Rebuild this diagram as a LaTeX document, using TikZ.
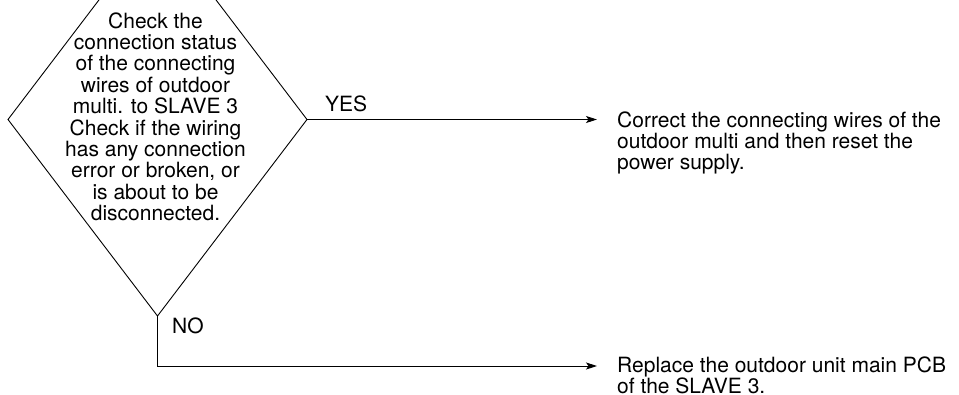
\documentclass[tikz,border=0pt]{standalone}
\usepackage{fontspec}
\setmainfont{TeX Gyre Heros}
\usetikzlibrary{arrows.meta}
\begin{document}
\begin{tikzpicture}[x=1bp,y=-1bp,
  wire/.style={line width=0.9bp,black},
  flow/.style={wire,-{Stealth[length=11bp,width=7bp,inset=2.5bp]}},
  txt/.style={inner sep=0pt,font=\fontsize{21bp}{21.4bp}\selectfont},
  label/.style={txt,anchor=base west}]
\useasboundingbox (0,0) rectangle (959,394);
\clip (0,0) rectangle (959,394);
\fill[white] (0,0) rectangle (959,394);

% decision diamond (its top corner lies above the sheet)
\coordinate (dtop) at (157.5,-77);
\coordinate (dleft) at (8,119.5);
\coordinate (dright) at (307,119.5);
\coordinate (dbottom) at (157.5,316);
\draw[wire] (dtop) -- (dright) -- (dbottom) -- (dleft) -- cycle;

% multi-line nodes are placed by the baseline of their last line
\node[txt,align=center,anchor=base] (check) at (155.5,220.6)
  {Check the\\connection status\\of the connecting\\wires of outdoor\\multi. to SLAVE 3\\Check if the wiring\\has any connection\\error or broken, or\\is about to be\\disconnected.};

% outcomes
\node[txt,align=left,anchor=base west] (fix) at (617,169.8)
  {Correct the connecting wires of the\\outdoor multi and then reset the\\power supply.};
\node[txt,align=left,anchor=base west] (repl) at (617,393.4)
  {Replace the outdoor unit main PCB\\of the SLAVE 3.};

\coordinate (yeslevel) at (157.5,119.5);
\coordinate (nolevel) at (157.5,366);

\draw[flow,shorten >=20bp] (dright) -- (fix.west |- yeslevel);
\draw[flow,shorten >=20bp] (dbottom) |- (repl.west |- nolevel);

\node[label] (yes) at (325,111) {YES};
\node[label] (no) at (172,333) {NO};
\end{tikzpicture}
\end{document}
